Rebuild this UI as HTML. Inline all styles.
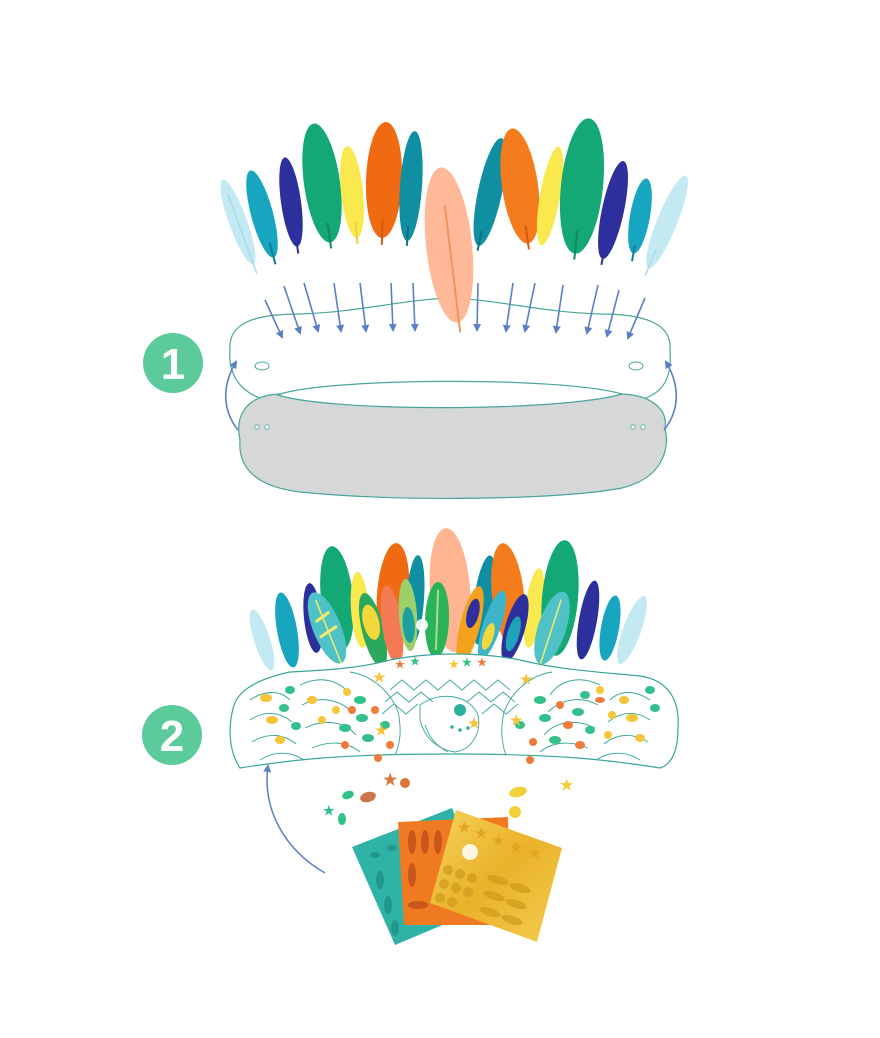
<!DOCTYPE html>
<html><head><meta charset="utf-8"><style>
html,body{margin:0;padding:0;background:#fff;}
svg{display:block;}
text{font-family:"Liberation Sans",sans-serif;font-weight:bold;}
</style></head><body>
<svg width="880" height="1038" viewBox="0 0 880 1038" xmlns="http://www.w3.org/2000/svg">
<defs>
<marker id="ah" markerWidth="8" markerHeight="8" refX="6" refY="4" orient="auto" markerUnits="userSpaceOnUse"><path d="M0,0 L8,4 L0,8 Z" fill="#5b7fc7"/></marker>
<linearGradient id="gold" x1="0" y1="0" x2="1" y2="1"><stop offset="0" stop-color="#f7d25a"/><stop offset="0.5" stop-color="#e9b22a"/><stop offset="1" stop-color="#f5cc50"/></linearGradient>
</defs>

<!-- TOP FEATHERS -->
<g>
<g transform="translate(238,222) rotate(-20)"><ellipse rx="9" ry="45" fill="#c3eaf3"/><line x1="0" y1="-30" x2="0" y2="55" stroke="#a6dbe8" stroke-width="1.5"/></g>
<g transform="translate(262,214) rotate(-15)"><ellipse rx="11" ry="45" fill="#17a5bf"/><line x1="0" y1="30" x2="0" y2="52" stroke="#0d7f93" stroke-width="2"/></g>
<g transform="translate(291,202) rotate(-8)"><ellipse rx="10" ry="45" fill="#2d2f9c"/><line x1="0" y1="30" x2="0" y2="52" stroke="#2d2f9c" stroke-width="2"/></g>
<g transform="translate(322,183) rotate(-8)"><ellipse rx="18" ry="60" fill="#13a874"/><line x1="0" y1="40" x2="0" y2="66" stroke="#0f8a5e" stroke-width="2"/></g>
<g transform="translate(352,192) rotate(-6)"><ellipse rx="11" ry="46" fill="#f9e84e"/><line x1="0" y1="30" x2="0" y2="52" stroke="#e9d33a" stroke-width="2"/></g>
<g transform="translate(384,180) rotate(2)"><ellipse rx="18" ry="58" fill="#f06a12"/><line x1="0" y1="40" x2="0" y2="65" stroke="#d55a0c" stroke-width="2"/></g>
<g transform="translate(411,186) rotate(4)"><ellipse rx="11" ry="55" fill="#0f8fa1"/><line x1="0" y1="40" x2="0" y2="60" stroke="#0b7383" stroke-width="2"/></g>
<g transform="translate(490,192) rotate(12)"><ellipse rx="12" ry="55" fill="#0f8fa1"/><line x1="0" y1="40" x2="0" y2="60" stroke="#0b7383" stroke-width="2"/></g>
<g transform="translate(520,186) rotate(-8)"><ellipse rx="18" ry="58" fill="#f47c1c"/><line x1="0" y1="40" x2="0" y2="64" stroke="#d55a0c" stroke-width="2"/></g>
<g transform="translate(550,196) rotate(10)"><ellipse rx="10" ry="50" fill="#f9e84e"/></g>
<g transform="translate(582,186) rotate(6)"><ellipse rx="21" ry="68" fill="#13a874"/><line x1="0" y1="45" x2="0" y2="74" stroke="#0f8a5e" stroke-width="2"/></g>
<g transform="translate(613,210) rotate(12)"><ellipse rx="11" ry="50" fill="#2d2f9c"/><line x1="0" y1="40" x2="0" y2="56" stroke="#2d2f9c" stroke-width="2"/></g>
<g transform="translate(640,216) rotate(10)"><ellipse rx="10" ry="38" fill="#17a5bf"/><line x1="0" y1="30" x2="0" y2="46" stroke="#0d7f93" stroke-width="2"/></g>
<g transform="translate(667,222) rotate(22)"><ellipse rx="10" ry="50" fill="#c3eaf3"/><line x1="0" y1="30" x2="0" y2="58" stroke="#a6dbe8" stroke-width="1.5"/></g>
</g>

<!-- BAND 1 -->
<path d="M260,398 C238,390 228,372 230,350 C228,325 250,314 300,314 C360,312 400,300 450,298 C500,300 540,312 600,314 C650,314 672,326 670,350 C672,376 665,393 640,400 Z" fill="#fff" stroke="#4aa59a" stroke-width="1.2"/>
<path d="M240,440 C234,412 250,395 280,394 C340,408 560,408 622,394 C652,395 668,410 665,428 C670,450 662,478 622,488 C560,500 400,502 300,492 C252,486 238,465 240,440 Z" fill="#d6d8d8" stroke="#4aa59a" stroke-width="1.2"/>
<path d="M278,395 C320,378 560,376 622,394 C560,412 330,412 278,395 Z" fill="#fff" stroke="#4aa59a" stroke-width="1.2"/>
<!-- peach feather overlaps band -->
<g transform="translate(449,245) rotate(-6)"><ellipse rx="23" ry="78" fill="#ffb592" opacity="0.95"/><line x1="0" y1="-40" x2="2" y2="88" stroke="#f0935f" stroke-width="2"/></g>
<ellipse cx="262" cy="366" rx="7" ry="4" fill="none" stroke="#4aa59a" stroke-width="1"/>
<ellipse cx="636" cy="366" rx="7" ry="4" fill="none" stroke="#4aa59a" stroke-width="1"/>
<g fill="#fff" stroke="#4aa59a" stroke-width="0.8"><circle cx="257" cy="427" r="2.2"/><circle cx="267" cy="427" r="2.2"/><circle cx="633" cy="427" r="2.2"/><circle cx="643" cy="427" r="2.2"/></g>

<!-- arrows -->
<g stroke="#5b7fc7" stroke-width="1.6" fill="none" marker-end="url(#ah)">
<line x1="265" y1="300" x2="282" y2="337"/>
<line x1="284" y1="286" x2="300" y2="333"/>
<line x1="304" y1="283" x2="318" y2="331"/>
<line x1="334" y1="283" x2="341" y2="331"/>
<line x1="360" y1="283" x2="366" y2="331"/>
<line x1="391" y1="283" x2="393" y2="330"/>
<line x1="413" y1="283" x2="415" y2="330"/>
<line x1="478" y1="283" x2="477" y2="330"/>
<line x1="513" y1="283" x2="506" y2="331"/>
<line x1="535" y1="283" x2="525" y2="331"/>
<line x1="563" y1="285" x2="556" y2="332"/>
<line x1="598" y1="285" x2="587" y2="333"/>
<line x1="619" y1="290" x2="607" y2="336"/>
<line x1="645" y1="298" x2="628" y2="338"/>
<path d="M238,430 C222,410 222,385 236,362"/>
<path d="M664,430 C680,410 680,385 666,362"/>
</g>

<!-- number 1 -->
<circle cx="173" cy="363" r="30" fill="#5ccb9c"/>
<text x="173" y="379" font-size="44" fill="#fff" text-anchor="middle">1</text>

<!-- SECTION 2 FEATHERS -->
<g>
<g transform="translate(262,640) rotate(-18)"><ellipse rx="8" ry="32" fill="#c3eaf3"/></g>
<g transform="translate(287,630) rotate(-10)"><ellipse rx="10" ry="38" fill="#17a5bf"/></g>
<g transform="translate(313,618) rotate(-6)"><ellipse rx="9" ry="35" fill="#2d2f9c"/></g>
<g transform="translate(337,598) rotate(-6)"><ellipse rx="16" ry="52" fill="#13a874"/></g>
<g transform="translate(360,610) rotate(-4)"><ellipse rx="9" ry="38" fill="#f9e84e"/></g>
<g transform="translate(393,595) rotate(4)"><ellipse rx="16" ry="52" fill="#f06a12"/></g>
<g transform="translate(415,600) rotate(4)"><ellipse rx="9" ry="45" fill="#0f8fa1"/></g>
<g transform="translate(450,590) rotate(-4)"><ellipse rx="20" ry="62" fill="#ffb592"/></g>
<g transform="translate(484,600) rotate(8)"><ellipse rx="10" ry="45" fill="#0f8fa1"/></g>
<g transform="translate(508,595) rotate(-6)"><ellipse rx="16" ry="52" fill="#f47c1c"/></g>
<g transform="translate(534,608) rotate(8)"><ellipse rx="9" ry="40" fill="#f9e84e"/></g>
<g transform="translate(560,598) rotate(5)"><ellipse rx="18" ry="58" fill="#13a874"/></g>
<g transform="translate(588,620) rotate(10)"><ellipse rx="9" ry="40" fill="#2d2f9c"/></g>
<g transform="translate(610,628) rotate(10)"><ellipse rx="9" ry="33" fill="#17a5bf"/></g>
<g transform="translate(632,630) rotate(20)"><ellipse rx="9" ry="36" fill="#c3eaf3"/></g>
<!-- decorated paper feathers -->
<g transform="translate(327,628) rotate(-22)"><ellipse rx="14" ry="38" fill="#4fc2c8"/><path d="M-8,-10 L8,-14 M-10,6 L10,2" stroke="#f5ea6a" stroke-width="3"/><line x1="0" y1="-30" x2="0" y2="38" stroke="#f5ea6a" stroke-width="1.5"/></g>
<g transform="translate(373,630) rotate(-14)"><ellipse rx="11" ry="38" fill="#2aa85c"/><ellipse rx="8" ry="18" cy="-8" fill="#f2d83a"/></g>
<g transform="translate(392,625) rotate(-8)"><ellipse rx="10" ry="40" fill="#f47a55"/></g>
<g transform="translate(408,615) rotate(-4)"><ellipse rx="9" ry="36" fill="#9cd06a"/><ellipse rx="6" ry="18" cy="10" fill="#1e9f9f"/></g>
<g transform="translate(437,620) rotate(2)"><ellipse rx="12" ry="38" fill="#2bb35a"/><line x1="0" y1="-30" x2="0" y2="30" stroke="#a8e08a" stroke-width="2"/></g>
<g transform="translate(470,625) rotate(14)"><ellipse rx="10" ry="40" fill="#f2a21c"/><ellipse rx="6" ry="15" cy="-12" fill="#2d2f9c"/></g>
<g transform="translate(492,625) rotate(18)"><ellipse rx="9" ry="36" fill="#3fb5c9"/><ellipse rx="5" ry="14" cy="12" fill="#f2d83a"/></g>
<g transform="translate(515,628) rotate(16)"><ellipse rx="10" ry="35" fill="#2d2f9c"/><ellipse rx="6" ry="18" cy="6" fill="#1fa3b8"/></g>
<g transform="translate(552,628) rotate(18)"><ellipse rx="14" ry="38" fill="#4fc2c8"/><line x1="0" y1="-30" x2="0" y2="38" stroke="#f5ea6a" stroke-width="1.5"/></g>
<circle cx="422" cy="625" r="6" fill="#fff" opacity="0.9"/>
</g>

<!-- BAND 2 -->
<path d="M240,768 C228,750 228,725 234,705 C240,688 262,678 290,672 C330,670 360,668 390,660 C430,652 480,652 520,660 C560,670 600,672 640,676 C668,680 680,700 678,728 C678,750 672,764 660,768 C610,760 560,754 450,754 C340,754 290,760 240,768 Z" fill="#fff" stroke="#3aa69a" stroke-width="1.2"/>
<g fill="none" stroke="#3aa69a" stroke-width="0.9">
<path d="M250,700 C265,690 280,690 290,700 M250,720 C265,710 280,712 292,722 M252,742 C268,732 284,734 296,744 M260,760 C276,750 292,752 304,760"/>
<path d="M300,685 C320,675 340,680 350,695 M302,705 C320,695 340,700 352,712 M305,728 C325,718 345,722 356,735 M312,748 C330,740 348,742 360,752"/>
<path d="M350,672 C370,675 390,690 398,712 C402,730 400,745 395,755"/>
<path d="M650,700 C635,690 620,690 610,700 M650,720 C635,710 620,712 608,722 M648,742 C632,732 616,734 604,744 M640,760 C624,750 608,752 596,760"/>
<path d="M600,685 C580,675 560,680 550,695 M598,705 C580,695 560,700 548,712 M595,728 C575,718 555,722 544,735 M588,748 C570,740 552,742 540,752"/>
<path d="M552,672 C532,675 512,690 504,712 C500,730 502,745 506,755"/>
<path d="M390,690 L402,680 L414,690 L426,680 L438,690 L450,680 L462,690 L474,680 L486,690 L498,680 L510,690"/>
<path d="M385,702 L397,692 L409,702 L421,692 L433,702 M467,702 L479,692 L491,702 L503,692 L515,702"/>
<path d="M382,714 L394,704 L406,714 L418,704 M482,714 L494,704 L506,714 L518,704"/>
<path d="M420,705 C440,690 470,695 478,715 C482,735 470,750 455,752 C440,750 425,740 420,720 Z"/>
<path d="M425,725 C430,740 440,748 448,752"/>
</g>
<circle cx="460" cy="710" r="6" fill="#2bb0a0"/>
<g fill="#2bb0a0"><circle cx="452" cy="727" r="1.8"/><circle cx="460" cy="730" r="1.8"/><circle cx="468" cy="728" r="1.8"/><circle cx="474" cy="722" r="1.8"/></g>
<!-- decorations -->
<g>
<g fill="#f6c53a"><ellipse cx="266" cy="698" rx="6" ry="4"/><ellipse cx="272" cy="720" rx="6" ry="4"/><ellipse cx="280" cy="740" rx="5" ry="4"/><ellipse cx="312" cy="700" rx="5" ry="4"/><circle cx="322" cy="720" r="4"/><circle cx="347" cy="692" r="4"/><circle cx="336" cy="710" r="4"/><ellipse cx="624" cy="700" rx="5" ry="4"/><ellipse cx="632" cy="718" rx="6" ry="4"/><circle cx="612" cy="715" r="4"/><circle cx="600" cy="690" r="4"/><circle cx="608" cy="735" r="4"/><ellipse cx="640" cy="738" rx="5" ry="4"/></g>
<g fill="#34c08a"><ellipse cx="290" cy="690" rx="5" ry="4"/><ellipse cx="284" cy="708" rx="5" ry="4"/><ellipse cx="296" cy="726" rx="5" ry="4"/><ellipse cx="360" cy="700" rx="6" ry="4"/><ellipse cx="362" cy="718" rx="6" ry="4"/><ellipse cx="345" cy="728" rx="6" ry="4"/><ellipse cx="368" cy="738" rx="6" ry="4"/><ellipse cx="385" cy="725" rx="5" ry="4"/><ellipse cx="520" cy="725" rx="5" ry="4"/><ellipse cx="540" cy="700" rx="6" ry="4"/><ellipse cx="545" cy="718" rx="6" ry="4"/><ellipse cx="555" cy="740" rx="6" ry="4"/><ellipse cx="578" cy="712" rx="6" ry="4"/><ellipse cx="585" cy="695" rx="5" ry="4"/><ellipse cx="650" cy="690" rx="5" ry="4"/><ellipse cx="655" cy="708" rx="5" ry="4"/><ellipse cx="590" cy="730" rx="5" ry="4"/></g>
<g fill="#f07a3a"><circle cx="352" cy="710" r="4"/><circle cx="345" cy="745" r="4"/><circle cx="378" cy="758" r="4"/><circle cx="375" cy="710" r="4"/><circle cx="390" cy="745" r="4"/><circle cx="533" cy="742" r="4"/><circle cx="530" cy="760" r="4"/><circle cx="560" cy="705" r="4"/><ellipse cx="568" cy="725" rx="5" ry="4"/><ellipse cx="580" cy="745" rx="5" ry="4"/><ellipse cx="600" cy="700" rx="5" ry="3"/></g>
<g fill="#f6c53a" font-size="14"><text x="468" y="728">★</text><text x="375" y="735">★</text><text x="510" y="725">★</text><text x="373" y="682">★</text><text x="520" y="684">★</text><text x="449" y="668" font-size="11">★</text></g>
<g fill="#f07a3a" font-size="11"><text x="395" y="668">★</text><text x="477" y="666">★</text></g>
<g fill="#34c08a" font-size="11"><text x="410" y="665">★</text><text x="462" y="666">★</text></g>
</g>

<!-- loose stickers -->
<g>
<ellipse cx="348" cy="795" rx="6" ry="4" fill="#34c08a" transform="rotate(-20 348 795)"/>
<ellipse cx="368" cy="797" rx="8" ry="5" fill="#c8754a" transform="rotate(-15 368 797)"/>
<circle cx="405" cy="783" r="5" fill="#d8793a"/>
<text x="383" y="785" font-size="16" fill="#d8793a">★</text>
<text x="323" y="815" font-size="13" fill="#34c08a">★</text>
<ellipse cx="342" cy="819" rx="4" ry="6" fill="#34c08a"/>
<ellipse cx="518" cy="792" rx="9" ry="5" fill="#f2d03a" transform="rotate(-15 518 792)"/>
<text x="560" y="790" font-size="15" fill="#f2d03a">★</text>
<ellipse cx="515" cy="812" rx="6" ry="6" fill="#f2d03a"/>
</g>

<!-- sheets -->
<polygon points="352,847 452,808 490,905 395,945" fill="#2fb3a6"/>
<g fill="#21968b"><ellipse cx="375" cy="855" rx="5" ry="3"/><ellipse cx="392" cy="848" rx="5" ry="3"/><ellipse cx="380" cy="880" rx="4" ry="9"/><ellipse cx="388" cy="905" rx="4" ry="9"/><ellipse cx="395" cy="928" rx="4" ry="8"/></g>
<polygon points="398,822 508,817 510,925 404,925" fill="#f07a22"/>
<g fill="#c9561a"><ellipse cx="412" cy="842" rx="4" ry="12"/><ellipse cx="425" cy="842" rx="4" ry="12"/><ellipse cx="438" cy="842" rx="4" ry="12"/><ellipse cx="412" cy="875" rx="4" ry="12"/><ellipse cx="418" cy="905" rx="10" ry="4"/></g>
<polygon points="456,810 562,848 537,942 430,903" fill="url(#gold)"/>
<g fill="#cf9a1c" opacity="0.7">
<circle cx="448" cy="870" r="5"/><circle cx="460" cy="874" r="5"/><circle cx="472" cy="878" r="5"/><circle cx="444" cy="884" r="5"/><circle cx="456" cy="888" r="5"/><circle cx="468" cy="892" r="5"/><circle cx="440" cy="898" r="5"/><circle cx="452" cy="902" r="5"/>
<ellipse cx="498" cy="880" rx="11" ry="4" transform="rotate(18 498 880)"/><ellipse cx="520" cy="888" rx="11" ry="4" transform="rotate(18 520 888)"/><ellipse cx="494" cy="896" rx="11" ry="4" transform="rotate(18 494 896)"/><ellipse cx="516" cy="904" rx="11" ry="4" transform="rotate(18 516 904)"/><ellipse cx="490" cy="912" rx="11" ry="4" transform="rotate(18 490 912)"/><ellipse cx="512" cy="920" rx="11" ry="4" transform="rotate(18 512 920)"/>
</g>
<g fill="#e4a51e" font-size="14"><text x="458" y="832">★</text><text x="475" y="838">★</text><text x="492" y="845">★</text><text x="510" y="852">★</text><text x="528" y="858">★</text></g>
<circle cx="470" cy="852" r="8" fill="#fff" opacity="0.85"/>

<!-- curved arrow 2 -->
<path d="M325,873 C285,850 262,810 268,766" fill="none" stroke="#5b7fc7" stroke-width="1.5" marker-end="url(#ah)"/>

<!-- number 2 -->
<circle cx="172" cy="735" r="30" fill="#5ccb9c"/>
<text x="172" y="751" font-size="44" fill="#fff" text-anchor="middle">2</text>
</svg>
</body></html>
